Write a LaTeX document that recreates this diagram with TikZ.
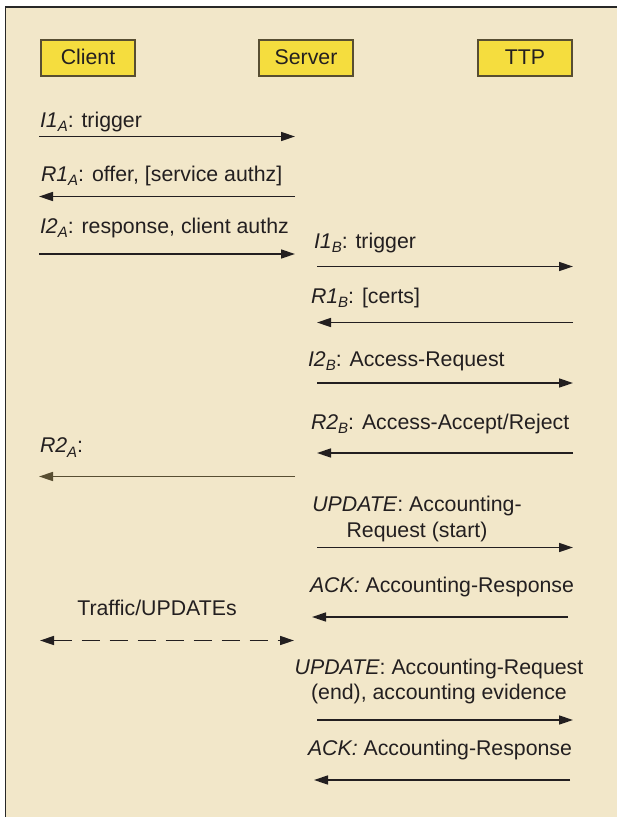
\documentclass[tikz,border=0pt]{standalone}
\usepackage{fontspec}
\setmainfont{Liberation Sans}
\usetikzlibrary{arrows.meta}
\definecolor{bgbeige}{RGB}{242,231,201}
\definecolor{boxyellow}{RGB}{245,221,62}
\definecolor{boxedge}{RGB}{88,78,50}
\definecolor{inkgray}{RGB}{35,31,32}
\definecolor{framegray}{RGB}{40,40,40}
\newcommand{\sbs}[1]{\raisebox{-4.5pt}{\fontsize{15}{15}\selectfont\itshape #1}}
\tikzset{
  x=1pt, y=-1pt,
  every node/.style={font=\fontsize{21.3}{26}\selectfont, text=inkgray, inner sep=0pt, outer sep=0pt},
  party/.style={draw=boxedge, line width=1.3pt, fill=boxyellow, minimum width=94pt, minimum height=36pt, inner sep=0pt},
  msg/.style={anchor=base west},
  msgc/.style={anchor=base, align=center},
  arr/.style={draw=inkgray, line width=1.5pt, -{Triangle[length=14pt,width=9pt]}},
  darr/.style={draw=inkgray, line width=1.5pt, {Triangle[length=14pt,width=9pt]}-{Triangle[length=14pt,width=9pt]}, dash pattern=on 18pt off 10pt},
}
\begin{document}
\begin{tikzpicture}
\useasboundingbox (0,0) rectangle (617,817);
\fill[bgbeige] (6,8) rectangle (617,817);
\draw[framegray, line width=1.8pt] (5.5,817) -- (5.5,7) -- (617,7);

% parties
\node[party] (client) at (88,58) {};
\node[party] (server) at (306,58) {};
\node[party] (ttp) at (525,58) {};
\node[anchor=base] (clientL) at (88,64.5) {Client};
\node[anchor=base] (serverL) at (306,64.5) {Server};
\node[anchor=base] (ttpL) at (525,64.5) {TTP};

% Client <-> Server
\node[msg] (t1) at (40,127) {\textit{I1}\sbs{A}: trigger};
\coordinate (a1s) at (39,136.5); \coordinate (a1e) at (295,136.5);
\draw[arr] (a1s) -- (a1e);

\node[msg] (t2) at (41,181) {\textit{R1}\sbs{A}: offer, [service authz]};
\coordinate (a2s) at (295,196.5); \coordinate (a2e) at (39,196.5);
\draw[arr] (a2s) -- (a2e);

\node[msg] (t3) at (40,233) {\textit{I2}\sbs{A}: response, client authz};
\coordinate (a3s) at (39,254); \coordinate (a3e) at (295,254);
\draw[arr] (a3s) -- (a3e);

% Server <-> TTP
\node[msg] (t4) at (314,248) {\textit{I1}\sbs{B}: trigger};
\coordinate (b1s) at (317,266.5); \coordinate (b1e) at (573,266.5);
\draw[arr] (b1s) -- (b1e);

\node[msg] (t5) at (311,303) {\textit{R1}\sbs{B}: [certs]};
\coordinate (b2s) at (573,322.5); \coordinate (b2e) at (317,322.5);
\draw[arr] (b2s) -- (b2e);

\node[msg] (t6) at (308,366) {\textit{I2}\sbs{B}: Access-Request};
\coordinate (b3s) at (317,383); \coordinate (b3e) at (573,383);
\draw[arr] (b3s) -- (b3e);

\node[msg] (t7) at (311,429) {\textit{R2}\sbs{B}: Access-Accept/Reject};
\coordinate (b4s) at (573,453); \coordinate (b4e) at (317,453);
\draw[arr] (b4s) -- (b4e);

% R2A
\node[msg] (t8) at (40,452.5) {\textit{R2}\sbs{A}:};
\coordinate (a4s) at (295,476.5); \coordinate (a4e) at (39,476.5);
\draw[arr, draw=boxedge] (a4s) -- (a4e);

% Accounting start
\node[msgc] (t9) at (417,537.5) {\textit{UPDATE}: Accounting-\\Request (start)};
\coordinate (b5s) at (317,547.5); \coordinate (b5e) at (573,547.5);
\draw[arr] (b5s) -- (b5e);

\node[msg] (t10) at (310,592.5) {\textit{ACK:} Accounting-Response};
\coordinate (b6s) at (568,617); \coordinate (b6e) at (312,617);
\draw[arr] (b6s) -- (b6e);

% Traffic
\node[anchor=base] (t11) at (157,615.5) {Traffic/UPDATEs};
\coordinate (d1s) at (40,640.5); \coordinate (d1e) at (294,640.5);
\draw[darr] (d1s) -- (d1e);

% Accounting end
\node[anchor=base, align=center, font=\fontsize{21.3}{25}\selectfont] (t12) at (439,699) {\textit{UPDATE}: Accounting-Request\\(end), accounting evidence};
\coordinate (b7s) at (317,720); \coordinate (b7e) at (573,720);
\draw[arr] (b7s) -- (b7e);

\node[msg] (t13) at (308,755.5) {\textit{ACK:} Accounting-Response};
\coordinate (b8s) at (570,780); \coordinate (b8e) at (314,780);
\draw[arr] (b8s) -- (b8e);
\end{tikzpicture}
\end{document}
